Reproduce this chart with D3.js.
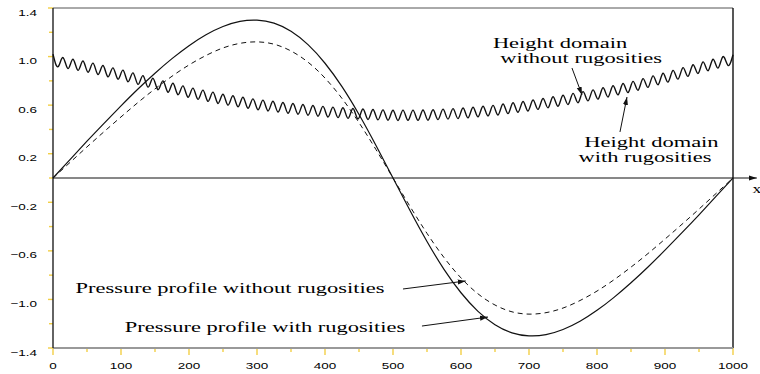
<!DOCTYPE html>
<html>
<head>
<meta charset="utf-8">
<script src="https://cdn.jsdelivr.net/npm/d3@7"></script>
<style>
  body { margin: 0; background: #fff; }
  svg { display: block; }
</style>
</head>
<body>
<svg id="chart" width="760" height="374"></svg>
<script>
// tick values
const xMajorTicks = [0, 100, 200, 300, 400, 500, 600, 700, 800, 900, 1000];
const xMinorTicks = [50, 150, 250, 350, 450, 550, 650, 750, 850, 950];
const yMajorTicks = [-1.4, -1.0, -0.6, -0.2, 0.2, 0.6, 1.0, 1.4];
const yMinorTicks = [-1.2, -0.8, -0.4, 0, 0.4, 0.8, 1.2];

// pressure profiles, sampled every 25
const pressureX = [0, 25, 50, 75, 100, 125, 150, 175, 200, 225, 250, 275, 300, 325, 350, 375, 400, 425, 450, 475,
  500, 525, 550, 575, 600, 625, 650, 675, 700, 725, 750, 775, 800, 825, 850, 875, 900, 925, 950, 975, 1000];
const pressureWith = [0, 0.152, 0.303, 0.450, 0.594, 0.733, 0.863, 0.983, 1.090, 1.180, 1.248, 1.290, 1.300, 1.275,
  1.208, 1.098, 0.945, 0.752, 0.523, 0.268, 0, -0.268, -0.523, -0.752, -0.945, -1.098, -1.208, -1.275, -1.300,
  -1.290, -1.248, -1.180, -1.090, -0.983, -0.863, -0.733, -0.594, -0.450, -0.303, -0.152, 0];
const pressureWithout = [0, 0.128, 0.256, 0.381, 0.503, 0.622, 0.734, 0.838, 0.931, 1.009, 1.071, 1.109, 1.121,
  1.102, 1.046, 0.954, 0.823, 0.655, 0.456, 0.234, 0, -0.234, -0.456, -0.655, -0.823, -0.954, -1.046, -1.102,
  -1.121, -1.109, -1.071, -1.009, -0.931, -0.838, -0.734, -0.622, -0.503, -0.381, -0.256, -0.128, 0];

// height domain with rugosities: successive crests and troughs, evenly spaced over [0, 1000]
const heightWith = [1.020, 0.916, 0.992, 0.901, 0.978, 0.886, 0.963, 0.871, 0.946, 0.852, 0.926, 0.833, 0.907, 0.814,
  0.888, 0.793, 0.866, 0.771, 0.843, 0.748, 0.821, 0.727, 0.800, 0.706, 0.780, 0.686, 0.759, 0.665, 0.740, 0.648,
  0.724, 0.631, 0.707, 0.614, 0.690, 0.600, 0.677, 0.587, 0.665, 0.574, 0.652, 0.562, 0.641, 0.552, 0.632, 0.543,
  0.622, 0.533, 0.613, 0.525, 0.605, 0.517, 0.597, 0.509, 0.590, 0.502, 0.584, 0.497, 0.578, 0.491, 0.572, 0.486,
  0.568, 0.482, 0.564, 0.479, 0.561, 0.476, 0.558, 0.474, 0.559, 0.475, 0.559, 0.475, 0.560, 0.476, 0.562, 0.481,
  0.567, 0.485, 0.571, 0.489, 0.576, 0.495, 0.583, 0.503, 0.591, 0.511, 0.598, 0.519, 0.609, 0.530, 0.620, 0.541,
  0.630, 0.552, 0.642, 0.565, 0.655, 0.578, 0.669, 0.591, 0.682, 0.605, 0.697, 0.620, 0.711, 0.635, 0.726, 0.650,
  0.743, 0.667, 0.760, 0.685, 0.778, 0.703, 0.796, 0.723, 0.818, 0.746, 0.841, 0.768, 0.863, 0.790, 0.886, 0.814,
  0.909, 0.837, 0.933, 0.861, 0.956, 0.883, 0.978, 0.905, 1.000, 0.927, 1.015];
const heightX = heightWith.map((_, i) => i * 1000 / (heightWith.length - 1));

// annotations, in data units: text lines, then arrow start/end
const notes = [
  { lines: [["Height domain", 745.6, 1.071], ["without rugosities", 776.5, 0.947]], from: [763.2, 0.906], to: [777.9, 0.684] },
  { lines: [["Height domain", 880.1, 0.255], ["with rugosities", 870.6, 0.132]], from: [833.8, 0.379], to: [844.1, 0.667] },
  { lines: [["Pressure profile without rugosities", 260.3, -0.947]], from: [514.7, -0.914], to: [607, -0.848] },
  { lines: [["Pressure profile with rugosities", 311.8, -1.268]], from: [542.6, -1.219], to: [639.7, -1.145] }
];

const svg = d3.select("#chart");
const x = d3.scaleLinear().domain([0, 1000]).range([53, 733]);
const y = d3.scaleLinear().domain([-1.4, 1.4]).range([348, 8]);
const tickColor = "#f2cf45";
const serif = "'Liberation Serif', 'Times New Roman', serif";
const sans = "'Liberation Sans', Arial, sans-serif";

// the figure's glyphs are widened, so text is scaled horizontally
function stretchedText(px, py, str, opts) {
  return svg.append("g")
    .attr("transform", `translate(${px},${py}) scale(${opts.sx},1)`)
    .append("text")
      .attr("text-anchor", opts.anchor || "middle")
      .style("font-family", opts.family)
      .style("font-size", opts.size + "px")
      .attr("fill", "#000")
      .text(str);
}

svg.append("defs").append("marker")
    .attr("id", "arrow")
    .attr("viewBox", "0 0 10 10")
    .attr("refX", 10).attr("refY", 5)
    .attr("markerWidth", 8).attr("markerHeight", 8)
    .attr("markerUnits", "userSpaceOnUse")
    .attr("orient", "auto")
  .append("path")
    .attr("d", "M0,1.8 L10,5 L0,8.2 Z")
    .attr("fill", "#111");

// frame
svg.append("line").attr("x1", x(0)).attr("x2", x(1000)).attr("y1", y(1.4)).attr("y2", y(1.4))
  .attr("stroke", "#555").attr("stroke-width", 1);
svg.append("line").attr("x1", x(1000)).attr("x2", x(1000)).attr("y1", y(1.4)).attr("y2", y(-1.4))
  .attr("stroke", "#111").attr("stroke-width", 1.4);

// ticks
svg.selectAll(".ymaj").data(yMajorTicks).join("line")
  .attr("x1", x(0) - 5).attr("x2", x(0)).attr("y1", d => y(d)).attr("y2", d => y(d))
  .attr("stroke", tickColor).attr("stroke-width", 1.4);
svg.selectAll(".ymin").data(yMinorTicks).join("line")
  .attr("x1", x(0) - 4).attr("x2", x(0)).attr("y1", d => y(d)).attr("y2", d => y(d))
  .attr("stroke", tickColor).attr("stroke-width", 1.4);
svg.selectAll(".xmaj").data(xMajorTicks).join("line")
  .attr("x1", d => x(d)).attr("x2", d => x(d)).attr("y1", y(-1.4)).attr("y2", y(-1.4) + 7)
  .attr("stroke", tickColor).attr("stroke-width", 1.4);
svg.selectAll(".xmin").data(xMinorTicks).join("line")
  .attr("x1", d => x(d)).attr("x2", d => x(d)).attr("y1", y(-1.4)).attr("y2", y(-1.4) + 4)
  .attr("stroke", tickColor).attr("stroke-width", 1.4);

// axis lines
svg.append("line").attr("x1", x(0)).attr("x2", x(1000)).attr("y1", y(-1.4)).attr("y2", y(-1.4))
  .attr("stroke", "#999").attr("stroke-width", 2);
svg.append("line").attr("x1", x(0)).attr("x2", x(0)).attr("y1", y(1.4)).attr("y2", y(-1.4))
  .attr("stroke", "#222").attr("stroke-width", 1.4);

// tick labels
const fmt = d3.format(".1f");
yMajorTicks.forEach(d => stretchedText(37, y(d) + 7.5, fmt(d), { sx: 1.42, anchor: "end", family: sans, size: 9.5 }));
xMajorTicks.forEach(d => stretchedText(x(d), 369, String(d), { sx: 1.42, family: sans, size: 9.5 }));

// zero line with arrow
svg.append("line").attr("x1", x(0)).attr("x2", x(1035)).attr("y1", y(0)).attr("y2", y(0))
  .attr("stroke", "#111").attr("stroke-width", 1).attr("marker-end", "url(#arrow)");
stretchedText(x(1035), y(-0.124), "x", { sx: 1.45, family: serif, size: 12 });

// curves
const pressureLine = d3.line().x((d, i) => x(pressureX[i])).y(d => y(d)).curve(d3.curveNatural);
svg.append("path").attr("d", pressureLine(pressureWith))
  .attr("fill", "none").attr("stroke", "#111").attr("stroke-width", 1.2);
svg.append("path").attr("d", pressureLine(pressureWithout))
  .attr("fill", "none").attr("stroke", "#111").attr("stroke-width", 1).attr("stroke-dasharray", "5,4");

const heightLine = d3.line().x((d, i) => x(heightX[i])).y(d => y(d)).curve(d3.curveNatural);
svg.append("path").attr("d", heightLine(heightWith))
  .attr("fill", "none").attr("stroke", "#111").attr("stroke-width", 1.4);

// annotations
notes.forEach(n => {
  n.lines.forEach(([t, lx, ly]) => stretchedText(x(lx), y(ly), t, { sx: 1.5, family: serif, size: 15 }));
  svg.append("line")
    .attr("x1", x(n.from[0])).attr("y1", y(n.from[1]))
    .attr("x2", x(n.to[0])).attr("y2", y(n.to[1]))
    .attr("stroke", "#111").attr("stroke-width", 1)
    .attr("marker-end", "url(#arrow)");
});
</script>
</body>
</html>
